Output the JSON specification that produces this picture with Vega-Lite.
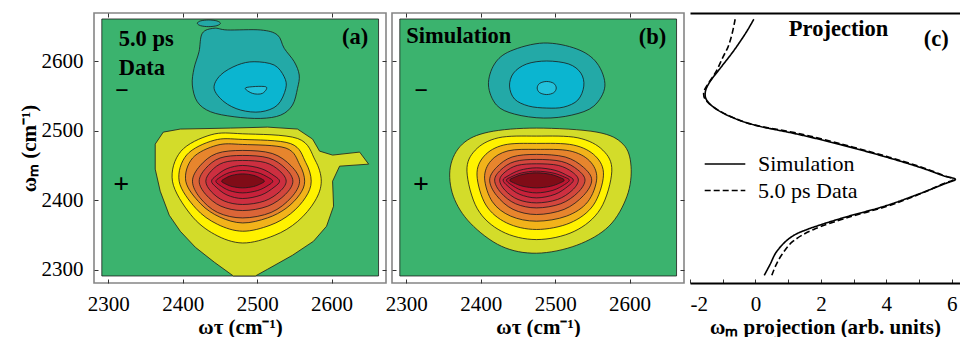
{
 "$schema": "https://vega.github.io/schema/vega-lite/v6.json",
 "background": "white",
 "padding": {"left": 17, "top": 11, "right": 0, "bottom": 0},
 "autosize": {"type": "pad"},
 "bounds": "flush",
 "spacing": 6,
 "config": {
  "view": {"stroke": "#858585", "strokeWidth": 1.6},
  "axis": {"grid": false, "domain": false, "tickSize": -4, "tickColor": "#333333", "tickWidth": 1, "labelFont": "Liberation Serif", "labelFontSize": 21, "labelColor": "#000000", "labelPadding": 14, "titleFont": "Liberation Serif", "titleFontSize": 21, "titleFontWeight": "bold", "titleColor": "#000000"},
  "text": {"font": "Liberation Serif", "color": "#000000"}
 },
 "datasets": {
  "ca": [
   {"p":"W","k":1,"t":2291.5,"m":2291.1},{"p":"W","k":2,"t":2663,"m":2291.1},{"p":"W","k":3,"t":2663,"m":2660.4},{"p":"W","k":4,"t":2291.5,"m":2660.4},
   {"p":"P01","k":1,"t":2363.2,"m":2480.6},{"p":"P01","k":2,"t":2374.0,"m":2497.8},{"p":"P01","k":3,"t":2396.8,"m":2502.2},{"p":"P01","k":4,"t":2464.1,"m":2503.6},{"p":"P01","k":5,"t":2513.9,"m":2505.0},{"p":"P01","k":6,"t":2554.2,"m":2502.2},{"p":"P01","k":7,"t":2574.4,"m":2487.8},{"p":"P01","k":8,"t":2583.8,"m":2470.5},{"p":"P01","k":9,"t":2601.3,"m":2464.8},{"p":"P01","k":10,"t":2637.6,"m":2469.1},{"p":"P01","k":11,"t":2649.7,"m":2451.8},{"p":"P01","k":12,"t":2610.7,"m":2448.9},{"p":"P01","k":13,"t":2601.3,"m":2427.3},{"p":"P01","k":14,"t":2602.6,"m":2391.4},{"p":"P01","k":15,"t":2593.2,"m":2362.6},{"p":"P01","k":16,"t":2575.7,"m":2341.0},{"p":"P01","k":17,"t":2547.5,"m":2320.9},{"p":"P01","k":18,"t":2513.9,"m":2300.7},{"p":"P01","k":19,"t":2497.7,"m":2291.1},{"p":"P01","k":20,"t":2468.1,"m":2291.1},{"p":"P01","k":21,"t":2442.6,"m":2310.8},{"p":"P01","k":22,"t":2417.0,"m":2332.4},{"p":"P01","k":23,"t":2396.8,"m":2355.4},{"p":"P01","k":24,"t":2382.0,"m":2378.4},{"p":"P01","k":25,"t":2369.9,"m":2412.9},{"p":"P01","k":26,"t":2363.2,"m":2444.6},
   {"p":"P02","k":1,"t":2480.6,"m":2495.4},{"p":"P02","k":2,"t":2554.5,"m":2488.6},{"p":"P02","k":3,"t":2577.7,"m":2457.9},{"p":"P02","k":4,"t":2586.1,"m":2427.3},{"p":"P02","k":5,"t":2577.7,"m":2398.9},{"p":"P02","k":6,"t":2554.5,"m":2369.6},{"p":"P02","k":7,"t":2522.8,"m":2349.2},{"p":"P02","k":8,"t":2480.6,"m":2338.5},{"p":"P02","k":9,"t":2442.9,"m":2350.9},{"p":"P02","k":10,"t":2410.8,"m":2379.3},{"p":"P02","k":11,"t":2386.3,"m":2427.3},{"p":"P02","k":12,"t":2397.6,"m":2470.2},{"p":"P02","k":13,"t":2438.2,"m":2494.0},
   {"p":"P03","k":1,"t":2480.6,"m":2487.3},{"p":"P03","k":2,"t":2545.0,"m":2481.3},{"p":"P03","k":3,"t":2565.2,"m":2454.3},{"p":"P03","k":4,"t":2572.6,"m":2427.3},{"p":"P03","k":5,"t":2565.2,"m":2404.3},{"p":"P03","k":6,"t":2545.0,"m":2380.6},{"p":"P03","k":7,"t":2517.4,"m":2364.0},{"p":"P03","k":8,"t":2480.6,"m":2355.4},{"p":"P03","k":9,"t":2446.5,"m":2365.5},{"p":"P03","k":10,"t":2417.5,"m":2388.5},{"p":"P03","k":11,"t":2395.3,"m":2427.3},{"p":"P03","k":12,"t":2405.5,"m":2465.1},{"p":"P03","k":13,"t":2442.2,"m":2486.1},
   {"p":"P04","k":1,"t":2480.6,"m":2480.1},{"p":"P04","k":2,"t":2538.8,"m":2474.8},{"p":"P04","k":3,"t":2557.1,"m":2451.1},{"p":"P04","k":4,"t":2563.8,"m":2427.3},{"p":"P04","k":5,"t":2557.1,"m":2408.1},{"p":"P04","k":6,"t":2538.8,"m":2388.3},{"p":"P04","k":7,"t":2513.9,"m":2374.5},{"p":"P04","k":8,"t":2480.6,"m":2367.3},{"p":"P04","k":9,"t":2450.0,"m":2375.7},{"p":"P04","k":10,"t":2424.1,"m":2394.9},{"p":"P04","k":11,"t":2404.2,"m":2427.3},{"p":"P04","k":12,"t":2413.4,"m":2460.6},{"p":"P04","k":13,"t":2446.2,"m":2479.0},
   {"p":"P05","k":1,"t":2480.6,"m":2471.5},{"p":"P05","k":2,"t":2520.3,"m":2467.1},{"p":"P05","k":3,"t":2545.5,"m":2449.4},{"p":"P05","k":4,"t":2557.0,"m":2427.3},{"p":"P05","k":5,"t":2545.5,"m":2403.5},{"p":"P05","k":6,"t":2518.8,"m":2382.4},{"p":"P05","k":7,"t":2480.6,"m":2374.5},{"p":"P05","k":8,"t":2446.9,"m":2382.4},{"p":"P05","k":9,"t":2423.3,"m":2403.5},{"p":"P05","k":10,"t":2413.2,"m":2427.3},{"p":"P05","k":11,"t":2423.3,"m":2449.4},{"p":"P05","k":12,"t":2445.6,"m":2467.1},
   {"p":"P06","k":1,"t":2480.6,"m":2464.3},{"p":"P06","k":2,"t":2515.6,"m":2460.6},{"p":"P06","k":3,"t":2537.9,"m":2445.8},{"p":"P06","k":4,"t":2548.0,"m":2427.3},{"p":"P06","k":5,"t":2537.9,"m":2408.3},{"p":"P06","k":6,"t":2514.3,"m":2391.4},{"p":"P06","k":7,"t":2480.6,"m":2385.1},{"p":"P06","k":8,"t":2451.4,"m":2391.4},{"p":"P06","k":9,"t":2431.0,"m":2408.3},{"p":"P06","k":10,"t":2422.2,"m":2427.3},{"p":"P06","k":11,"t":2431.0,"m":2445.8},{"p":"P06","k":12,"t":2450.2,"m":2460.6},
   {"p":"P07","k":1,"t":2480.6,"m":2457.1},{"p":"P07","k":2,"t":2511.0,"m":2454.1},{"p":"P07","k":3,"t":2530.2,"m":2442.2},{"p":"P07","k":4,"t":2539.0,"m":2427.3},{"p":"P07","k":5,"t":2530.2,"m":2412.2},{"p":"P07","k":6,"t":2509.8,"m":2398.8},{"p":"P07","k":7,"t":2480.6,"m":2393.8},{"p":"P07","k":8,"t":2455.8,"m":2398.8},{"p":"P07","k":9,"t":2438.5,"m":2412.2},{"p":"P07","k":10,"t":2431.1,"m":2427.3},{"p":"P07","k":11,"t":2438.5,"m":2442.2},{"p":"P07","k":12,"t":2454.9,"m":2454.1},
   {"p":"P08","k":1,"t":2480.6,"m":2449.9},{"p":"P08","k":2,"t":2505.4,"m":2445.4},{"p":"P08","k":3,"t":2522.7,"m":2435.2},{"p":"P08","k":4,"t":2530.1,"m":2427.3},{"p":"P08","k":5,"t":2522.7,"m":2418.6},{"p":"P08","k":6,"t":2505.4,"m":2407.4},{"p":"P08","k":7,"t":2480.6,"m":2402.4},{"p":"P08","k":8,"t":2459.7,"m":2407.4},{"p":"P08","k":9,"t":2445.1,"m":2418.6},{"p":"P08","k":10,"t":2438.8,"m":2427.3},{"p":"P08","k":11,"t":2445.1,"m":2435.2},{"p":"P08","k":12,"t":2459.7,"m":2445.4},
   {"p":"P09","k":1,"t":2480.6,"m":2442.7},{"p":"P09","k":2,"t":2500.8,"m":2439.6},{"p":"P09","k":3,"t":2514.9,"m":2432.7},{"p":"P09","k":4,"t":2521.0,"m":2427.3},{"p":"P09","k":5,"t":2514.9,"m":2421.4},{"p":"P09","k":6,"t":2500.8,"m":2413.9},{"p":"P09","k":7,"t":2480.6,"m":2410.5},{"p":"P09","k":8,"t":2462.6,"m":2413.9},{"p":"P09","k":9,"t":2450.0,"m":2421.4},{"p":"P09","k":10,"t":2444.6,"m":2427.3},{"p":"P09","k":11,"t":2450.0,"m":2432.7},{"p":"P09","k":12,"t":2462.6,"m":2439.6},
   {"p":"P10","k":1,"t":2480.6,"m":2437.8},{"p":"P10","k":2,"t":2495.2,"m":2435.7},{"p":"P10","k":3,"t":2505.4,"m":2431.0},{"p":"P10","k":4,"t":2509.8,"m":2427.3},{"p":"P10","k":5,"t":2505.4,"m":2423.9},{"p":"P10","k":6,"t":2495.2,"m":2419.6},{"p":"P10","k":7,"t":2480.6,"m":2417.7},{"p":"P10","k":8,"t":2466.4,"m":2419.6},{"p":"P10","k":9,"t":2456.5,"m":2423.9},{"p":"P10","k":10,"t":2452.3,"m":2427.3},{"p":"P10","k":11,"t":2456.5,"m":2431.0},{"p":"P10","k":12,"t":2466.4,"m":2435.7},
   {"p":"Q1","k":1,"t":2426.4,"m":2639.9},{"p":"Q1","k":2,"t":2422.0,"m":2613.4},{"p":"Q1","k":3,"t":2415.3,"m":2589.5},{"p":"Q1","k":4,"t":2413.0,"m":2565.5},{"p":"Q1","k":5,"t":2419.7,"m":2541.4},{"p":"Q1","k":6,"t":2437.6,"m":2527.0},{"p":"Q1","k":7,"t":2469.1,"m":2519.9},{"p":"Q1","k":8,"t":2504.8,"m":2517.5},{"p":"Q1","k":9,"t":2531.7,"m":2522.3},{"p":"Q1","k":10,"t":2547.5,"m":2536.7},{"p":"Q1","k":11,"t":2554.2,"m":2560.7},{"p":"Q1","k":12,"t":2556.5,"m":2579.9},{"p":"Q1","k":13,"t":2549.8,"m":2599.0},{"p":"Q1","k":14,"t":2536.3,"m":2618.3},{"p":"Q1","k":15,"t":2527.3,"m":2637.4},{"p":"Q1","k":16,"t":2504.8,"m":2644.6},{"p":"Q1","k":17,"t":2460.1,"m":2644.6},{"p":"Q1","k":18,"t":2442.2,"m":2647.1},
   {"p":"Q1b","k":1,"t":2435.0,"m":2659.0},{"p":"Q1b","k":2,"t":2446.0,"m":2657.6},{"p":"Q1b","k":3,"t":2450.7,"m":2654.2},{"p":"Q1b","k":4,"t":2446.0,"m":2650.8},{"p":"Q1b","k":5,"t":2435.0,"m":2649.4},{"p":"Q1b","k":6,"t":2424.0,"m":2650.8},{"p":"Q1b","k":7,"t":2419.7,"m":2654.2},{"p":"Q1b","k":8,"t":2424.0,"m":2657.6},
   {"p":"Q2","k":1,"t":2496.0,"m":2599.0},{"p":"Q2","k":2,"t":2522.9,"m":2594.2},{"p":"Q2","k":3,"t":2536.3,"m":2577.4},{"p":"Q2","k":4,"t":2538.5,"m":2560.7},{"p":"Q2","k":5,"t":2527.3,"m":2536.7},{"p":"Q2","k":6,"t":2504.8,"m":2527.0},{"p":"Q2","k":7,"t":2477.9,"m":2529.5},{"p":"Q2","k":8,"t":2455.6,"m":2541.4},{"p":"Q2","k":9,"t":2442.2,"m":2560.7},{"p":"Q2","k":10,"t":2451.0,"m":2579.9},{"p":"Q2","k":11,"t":2473.5,"m":2594.2},
   {"p":"Q3","k":1,"t":2484.7,"m":2561.6},{"p":"Q3","k":2,"t":2511.6,"m":2563.0},{"p":"Q3","k":3,"t":2507.1,"m":2553.5},{"p":"Q3","k":4,"t":2493.7,"m":2553.5}
  ],
  "cb": [
   {"p":"W","k":1,"t":2291.5,"m":2291.1},{"p":"W","k":2,"t":2663,"m":2291.1},{"p":"W","k":3,"t":2663,"m":2660.4},{"p":"W","k":4,"t":2291.5,"m":2660.4},
   {"p":"P01","k":1,"t":2475.2,"m":2503.6},{"p":"P01","k":2,"t":2556.1,"m":2497.8},{"p":"P01","k":3,"t":2591.1,"m":2480.6},{"p":"P01","k":4,"t":2601.9,"m":2448.9},{"p":"P01","k":5,"t":2596.5,"m":2405.8},{"p":"P01","k":6,"t":2572.2,"m":2362.6},{"p":"P01","k":7,"t":2529.1,"m":2335.3},{"p":"P01","k":8,"t":2475.2,"m":2323.8},{"p":"P01","k":9,"t":2428.0,"m":2333.8},{"p":"P01","k":10,"t":2386.3,"m":2366.9},{"p":"P01","k":11,"t":2363.3,"m":2405.8},{"p":"P01","k":12,"t":2359.3,"m":2447.5},{"p":"P01","k":13,"t":2375.5,"m":2480.6},{"p":"P01","k":14,"t":2410.5,"m":2497.8},
   {"p":"P02","k":1,"t":2475.0,"m":2492.1},{"p":"P02","k":2,"t":2530.6,"m":2489.6},{"p":"P02","k":3,"t":2564.0,"m":2471.9},{"p":"P02","k":4,"t":2576.1,"m":2441.7},{"p":"P02","k":5,"t":2560.9,"m":2387.6},{"p":"P02","k":6,"t":2525.6,"m":2355.2},{"p":"P02","k":7,"t":2475.0,"m":2343.4},{"p":"P02","k":8,"t":2428.3,"m":2355.2},{"p":"P02","k":9,"t":2395.6,"m":2387.6},{"p":"P02","k":10,"t":2381.6,"m":2441.7},{"p":"P02","k":11,"t":2392.8,"m":2471.9},{"p":"P02","k":12,"t":2423.6,"m":2489.6},
   {"p":"P03","k":1,"t":2475.0,"m":2481.6},{"p":"P03","k":2,"t":2524.4,"m":2479.3},{"p":"P03","k":3,"t":2554.1,"m":2463.4},{"p":"P03","k":4,"t":2564.9,"m":2436.0},{"p":"P03","k":5,"t":2551.4,"m":2393.0},{"p":"P03","k":6,"t":2520.0,"m":2367.3},{"p":"P03","k":7,"t":2475.0,"m":2357.9},{"p":"P03","k":8,"t":2435.0,"m":2367.3},{"p":"P03","k":9,"t":2407.1,"m":2393.0},{"p":"P03","k":10,"t":2395.1,"m":2436.0},{"p":"P03","k":11,"t":2404.7,"m":2463.4},{"p":"P03","k":12,"t":2431.1,"m":2479.3},
   {"p":"P04","k":1,"t":2475.0,"m":2473.0},{"p":"P04","k":2,"t":2519.5,"m":2470.9},{"p":"P04","k":3,"t":2546.2,"m":2456.5},{"p":"P04","k":4,"t":2555.9,"m":2431.7},{"p":"P04","k":5,"t":2543.8,"m":2397.7},{"p":"P04","k":6,"t":2515.5,"m":2377.2},{"p":"P04","k":7,"t":2475.0,"m":2369.8},{"p":"P04","k":8,"t":2440.1,"m":2377.2},{"p":"P04","k":9,"t":2415.8,"m":2397.7},{"p":"P04","k":10,"t":2405.3,"m":2431.7},{"p":"P04","k":11,"t":2413.7,"m":2456.5},{"p":"P04","k":12,"t":2436.7,"m":2470.9},
   {"p":"P05","k":1,"t":2475.0,"m":2465.8},{"p":"P05","k":2,"t":2513.5,"m":2462.1},{"p":"P05","k":3,"t":2538.0,"m":2447.3},{"p":"P05","k":4,"t":2549.1,"m":2428.8},{"p":"P05","k":5,"t":2538.0,"m":2406.6},{"p":"P05","k":6,"t":2512.1,"m":2386.8},{"p":"P05","k":7,"t":2475.0,"m":2379.4},{"p":"P05","k":8,"t":2443.5,"m":2386.8},{"p":"P05","k":9,"t":2421.5,"m":2406.6},{"p":"P05","k":10,"t":2412.1,"m":2428.8},{"p":"P05","k":11,"t":2421.5,"m":2447.3},{"p":"P05","k":12,"t":2442.3,"m":2462.1},
   {"p":"P06","k":1,"t":2475.0,"m":2458.6},{"p":"P06","k":2,"t":2508.9,"m":2455.6},{"p":"P06","k":3,"t":2530.3,"m":2443.7},{"p":"P06","k":4,"t":2540.1,"m":2428.8},{"p":"P06","k":5,"t":2530.3,"m":2410.8},{"p":"P06","k":6,"t":2507.6,"m":2394.9},{"p":"P06","k":7,"t":2475.0,"m":2388.9},{"p":"P06","k":8,"t":2446.9,"m":2394.9},{"p":"P06","k":9,"t":2427.2,"m":2410.8},{"p":"P06","k":10,"t":2418.8,"m":2428.8},{"p":"P06","k":11,"t":2427.2,"m":2443.7},{"p":"P06","k":12,"t":2445.8,"m":2455.6},
   {"p":"P07","k":1,"t":2475.0,"m":2452.3},{"p":"P07","k":2,"t":2504.2,"m":2450.0},{"p":"P07","k":3,"t":2522.8,"m":2440.6},{"p":"P07","k":4,"t":2531.2,"m":2428.8},{"p":"P07","k":5,"t":2522.8,"m":2414.1},{"p":"P07","k":6,"t":2503.1,"m":2401.0},{"p":"P07","k":7,"t":2475.0,"m":2396.1},{"p":"P07","k":8,"t":2450.2,"m":2401.0},{"p":"P07","k":9,"t":2432.9,"m":2414.1},{"p":"P07","k":10,"t":2425.5,"m":2428.8},{"p":"P07","k":11,"t":2432.9,"m":2440.6},{"p":"P07","k":12,"t":2449.3,"m":2450.0},
   {"p":"P08","k":1,"t":2475.0,"m":2446.5},{"p":"P08","k":2,"t":2499.8,"m":2443.0},{"p":"P08","k":3,"t":2517.1,"m":2435.0},{"p":"P08","k":4,"t":2524.5,"m":2428.8},{"p":"P08","k":5,"t":2517.1,"m":2419.9},{"p":"P08","k":6,"t":2499.8,"m":2408.4},{"p":"P08","k":7,"t":2475.0,"m":2403.3},{"p":"P08","k":8,"t":2452.5,"m":2408.4},{"p":"P08","k":9,"t":2436.8,"m":2419.9},{"p":"P08","k":10,"t":2430.1,"m":2428.8},{"p":"P08","k":11,"t":2436.8,"m":2435.0},{"p":"P08","k":12,"t":2452.5,"m":2443.0},
   {"p":"P09","k":1,"t":2475.0,"m":2441.7},{"p":"P09","k":2,"t":2497.1,"m":2439.1},{"p":"P09","k":3,"t":2512.5,"m":2433.3},{"p":"P09","k":4,"t":2519.1,"m":2428.8},{"p":"P09","k":5,"t":2512.5,"m":2422.4},{"p":"P09","k":6,"t":2497.1,"m":2414.2},{"p":"P09","k":7,"t":2475.0,"m":2410.5},{"p":"P09","k":8,"t":2454.8,"m":2414.2},{"p":"P09","k":9,"t":2440.7,"m":2422.4},{"p":"P09","k":10,"t":2434.6,"m":2428.8},{"p":"P09","k":11,"t":2440.7,"m":2433.3},{"p":"P09","k":12,"t":2454.8,"m":2439.1},
   {"p":"P10","k":1,"t":2475.0,"m":2439.3},{"p":"P10","k":2,"t":2493.7,"m":2437.2},{"p":"P10","k":3,"t":2506.7,"m":2432.5},{"p":"P10","k":4,"t":2512.3,"m":2428.8},{"p":"P10","k":5,"t":2506.7,"m":2424.9},{"p":"P10","k":6,"t":2493.7,"m":2419.9},{"p":"P10","k":7,"t":2475.0,"m":2417.7},{"p":"P10","k":8,"t":2457.0,"m":2419.9},{"p":"P10","k":9,"t":2444.4,"m":2424.9},{"p":"P10","k":10,"t":2439.0,"m":2428.8},{"p":"P10","k":11,"t":2444.4,"m":2432.5},{"p":"P10","k":12,"t":2457.0,"m":2437.2},
   {"p":"Q1","k":1,"t":2484.6,"m":2625.9},{"p":"Q1","k":2,"t":2529.1,"m":2617.3},{"p":"Q1","k":3,"t":2556.1,"m":2597.1},{"p":"Q1","k":4,"t":2566.8,"m":2564.0},{"p":"Q1","k":5,"t":2552.0,"m":2535.3},{"p":"Q1","k":6,"t":2522.4,"m":2522.3},{"p":"Q1","k":7,"t":2484.6,"m":2518.0},{"p":"Q1","k":8,"t":2445.6,"m":2523.7},{"p":"Q1","k":9,"t":2421.3,"m":2536.7},{"p":"Q1","k":10,"t":2410.5,"m":2565.5},{"p":"Q1","k":11,"t":2418.6,"m":2595.7},{"p":"Q1","k":12,"t":2440.2,"m":2614.4},
   {"p":"Q2","k":1,"t":2488.7,"m":2600.0},{"p":"Q2","k":2,"t":2518.3,"m":2595.7},{"p":"Q2","k":3,"t":2534.5,"m":2582.7},{"p":"Q2","k":4,"t":2538.5,"m":2564.0},{"p":"Q2","k":5,"t":2530.5,"m":2543.9},{"p":"Q2","k":6,"t":2511.6,"m":2533.8},{"p":"Q2","k":7,"t":2488.7,"m":2532.4},{"p":"Q2","k":8,"t":2464.4,"m":2535.3},{"p":"Q2","k":9,"t":2445.6,"m":2545.3},{"p":"Q2","k":10,"t":2438.8,"m":2564.0},{"p":"Q2","k":11,"t":2444.2,"m":2582.7},{"p":"Q2","k":12,"t":2461.7,"m":2595.7},
   {"p":"Q3","k":1,"t":2488.7,"m":2570.6},{"p":"Q3","k":2,"t":2498.1,"m":2567.9},{"p":"Q3","k":3,"t":2501.5,"m":2561.2},{"p":"Q3","k":4,"t":2498.1,"m":2554.5},{"p":"Q3","k":5,"t":2488.7,"m":2551.8},{"p":"Q3","k":6,"t":2479.3,"m":2554.5},{"p":"Q3","k":7,"t":2475.9,"m":2561.2},{"p":"Q3","k":8,"t":2479.3,"m":2567.9}
  ],
  "pr": [
   {"s":"Simulation","m":2660,"v":-0.05},{"s":"Simulation","m":2640,"v":-0.30},{"s":"Simulation","m":2615,"v":-0.66},{"s":"Simulation","m":2590,"v":-1.07},{"s":"Simulation","m":2571,"v":-1.38},{"s":"Simulation","m":2556,"v":-1.53},{"s":"Simulation","m":2543,"v":-1.48},{"s":"Simulation","m":2530,"v":-1.17},{"s":"Simulation","m":2518,"v":-0.66},{"s":"Simulation","m":2507,"v":0.05},{"s":"Simulation","m":2495,"v":1.27},{"s":"Simulation","m":2480,"v":2.59},{"s":"Simulation","m":2463,"v":3.92},{"s":"Simulation","m":2447,"v":5.04},{"s":"Simulation","m":2435,"v":5.75},{"s":"Simulation","m":2430,"v":6.11},{"s":"Simulation","m":2423,"v":5.75},{"s":"Simulation","m":2408,"v":4.94},{"s":"Simulation","m":2391,"v":3.92},{"s":"Simulation","m":2375,"v":2.70},{"s":"Simulation","m":2358,"v":1.58},{"s":"Simulation","m":2346,"v":1.06},{"s":"Simulation","m":2327,"v":0.66},{"s":"Simulation","m":2308,"v":0.45},{"s":"Simulation","m":2292,"v":0.27},
   {"s":"5.0 ps Data","m":2660,"v":-0.62},{"s":"5.0 ps Data","m":2638,"v":-0.72},{"s":"5.0 ps Data","m":2620,"v":-0.84},{"s":"5.0 ps Data","m":2605,"v":-1.00},{"s":"5.0 ps Data","m":2585,"v":-1.20},{"s":"5.0 ps Data","m":2567,"v":-1.45},{"s":"5.0 ps Data","m":2555,"v":-1.58},{"s":"5.0 ps Data","m":2544,"v":-1.52},{"s":"5.0 ps Data","m":2532,"v":-1.22},{"s":"5.0 ps Data","m":2520,"v":-0.74},{"s":"5.0 ps Data","m":2508,"v":-0.02},{"s":"5.0 ps Data","m":2496,"v":1.30},{"s":"5.0 ps Data","m":2480,"v":2.68},{"s":"5.0 ps Data","m":2463,"v":4.00},{"s":"5.0 ps Data","m":2447,"v":5.10},{"s":"5.0 ps Data","m":2436,"v":5.72},{"s":"5.0 ps Data","m":2430,"v":6.05},{"s":"5.0 ps Data","m":2423,"v":5.70},{"s":"5.0 ps Data","m":2408,"v":4.98},{"s":"5.0 ps Data","m":2391,"v":4.00},{"s":"5.0 ps Data","m":2375,"v":2.82},{"s":"5.0 ps Data","m":2358,"v":1.78},{"s":"5.0 ps Data","m":2341,"v":1.15},{"s":"5.0 ps Data","m":2322,"v":0.81},{"s":"5.0 ps Data","m":2306,"v":0.62},{"s":"5.0 ps Data","m":2292,"v":0.50}
  ],
  "ta": [{"lab":"5.0 ps","t":2314.2,"m":2621.5},{"lab":"Data","t":2314.2,"m":2580.5},{"lab":"(a)","t":2613.9,"m":2624.5}],
  "sa": [{"lab":"−","t":2318.6,"m":2556.2},{"lab":"+","t":2317.5,"m":2421.6}],
  "tb": [{"lab":"Simulation","t":2300.2,"m":2626.3},{"lab":"(b)","t":2612.1,"m":2624.5}],
  "sb": [{"lab":"−","t":2320.5,"m":2556.2},{"lab":"+","t":2319.9,"m":2421.6}],
  "tc": [{"lab":"Projection","v":1.02,"m":2636.0},{"lab":"(c)","v":5.14,"m":2622.0}]
 },
 "hconcat": [
  {
   "width": 292, "height": 270,
   "layer": [
    {
     "data": {"name": "ca"},
     "transform": [{"filter": "datum.p == 'W' || datum.p == 'P01'"}],
     "mark": {"type": "line", "interpolate": "linear-closed", "stroke": "#1a1a1a", "strokeWidth": 0.8},
     "encoding": {
      "x": {"field": "t", "type": "quantitative", "scale": {"domain": [2281, 2673], "nice": false, "zero": false}, "axis": {"orient": "bottom", "values": [2300, 2400, 2500, 2600], "format": "d", "title": "ωτ (cm⁻¹)", "titlePadding": 2}},
      "y": {"field": "m", "type": "quantitative", "scale": {"domain": [2281, 2669], "nice": false, "zero": false}, "axis": {"orient": "left", "values": [2300, 2400, 2500, 2600], "format": "d", "title": "ωₘ (cm⁻¹)", "labelPadding": 15, "titlePadding": 2}},
      "fill": {"field": "p", "type": "nominal", "legend": null, "scale": {"domain": ["W","P01","P02","P03","P04","P05","P06","P07","P08","P09","P10","Q1","Q1b","Q2","Q3"], "range": ["#3bb36e","#d3dc2a","#fff200","#f2b31a","#e7852d","#db6537","#d3463d","#cd2f40","#c7213a","#bd1530","#800c17","#23a9a7","#23a9a7","#0bb5d0","#22c2dc"]}},
      "order": {"field": "k", "type": "quantitative"}
     }
    },
    {
     "data": {"name": "ca"},
     "transform": [{"filter": "datum.p != 'W' && datum.p != 'P01'"}],
     "mark": {"type": "line", "interpolate": "cardinal-closed", "stroke": "#1a1a1a", "strokeWidth": 0.8},
     "encoding": {
      "x": {"field": "t", "type": "quantitative", "scale": {"domain": [2281, 2673], "nice": false, "zero": false}, "axis": {"orient": "top", "values": [2300, 2400, 2500, 2600], "labels": false, "title": null}},
      "y": {"field": "m", "type": "quantitative", "scale": {"domain": [2281, 2669], "nice": false, "zero": false}, "axis": {"orient": "right", "values": [2300, 2400, 2500, 2600], "labels": false, "title": null}},
      "fill": {"field": "p", "type": "nominal", "legend": null, "scale": {"domain": ["W","P01","P02","P03","P04","P05","P06","P07","P08","P09","P10","Q1","Q1b","Q2","Q3"], "range": ["#3bb36e","#d3dc2a","#fff200","#f2b31a","#e7852d","#db6537","#d3463d","#cd2f40","#c7213a","#bd1530","#800c17","#23a9a7","#23a9a7","#0bb5d0","#22c2dc"]}},
      "order": {"field": "k", "type": "quantitative"}
     }
    },
    {
     "data": {"name": "ta"},
     "mark": {"type": "text", "align": "left", "baseline": "alphabetic", "font": "Liberation Serif", "fontWeight": "bold", "fontSize": 22.5, "color": "#000000"},
     "encoding": {
      "x": {"field": "t", "type": "quantitative", "scale": {"domain": [2281, 2673], "nice": false, "zero": false}, "axis": null},
      "y": {"field": "m", "type": "quantitative", "scale": {"domain": [2281, 2669], "nice": false, "zero": false}, "axis": null},
      "text": {"field": "lab"}
     }
    },
    {
     "data": {"name": "sa"},
     "transform": [{"filter": "datum.lab == '+'"}],
     "mark": {"type": "text", "align": "center", "baseline": "middle", "font": "Liberation Serif", "fontWeight": "bold", "fontSize": 28, "color": "#000000"},
     "encoding": {
      "x": {"field": "t", "type": "quantitative", "scale": {"domain": [2281, 2673], "nice": false, "zero": false}, "axis": null},
      "y": {"field": "m", "type": "quantitative", "scale": {"domain": [2281, 2669], "nice": false, "zero": false}, "axis": null},
      "text": {"field": "lab"}
     }
    },
    {
     "data": {"name": "sa"},
     "transform": [{"filter": "datum.lab != '+'"}],
     "mark": {"type": "text", "align": "center", "baseline": "middle", "font": "Liberation Serif", "fontWeight": "bold", "fontSize": 24, "color": "#000000"},
     "encoding": {
      "x": {"field": "t", "type": "quantitative", "scale": {"domain": [2281, 2673], "nice": false, "zero": false}, "axis": null},
      "y": {"field": "m", "type": "quantitative", "scale": {"domain": [2281, 2669], "nice": false, "zero": false}, "axis": null},
      "text": {"field": "lab"}
     }
    }
   ]
  },
  {
   "width": 292, "height": 270,
   "layer": [
    {
     "data": {"name": "cb"},
     "transform": [{"filter": "datum.p == 'W'"}],
     "mark": {"type": "line", "interpolate": "linear-closed", "stroke": "#1a1a1a", "strokeWidth": 0.8},
     "encoding": {
      "x": {"field": "t", "type": "quantitative", "scale": {"domain": [2281, 2673], "nice": false, "zero": false}, "axis": {"orient": "bottom", "values": [2300, 2400, 2500, 2600], "format": "d", "title": "ωτ (cm⁻¹)", "titlePadding": 2}},
      "y": {"field": "m", "type": "quantitative", "scale": {"domain": [2281, 2669], "nice": false, "zero": false}, "axis": {"orient": "left", "values": [2300, 2400, 2500, 2600], "labels": false, "title": null}},
      "fill": {"field": "p", "type": "nominal", "legend": null, "scale": {"domain": ["W","P01","P02","P03","P04","P05","P06","P07","P08","P09","P10","Q1","Q1b","Q2","Q3"], "range": ["#3bb36e","#d3dc2a","#fff200","#f2b31a","#e7852d","#db6537","#d3463d","#cd2f40","#c7213a","#bd1530","#800c17","#23a9a7","#23a9a7","#0bb5d0","#22c2dc"]}},
      "order": {"field": "k", "type": "quantitative"}
     }
    },
    {
     "data": {"name": "cb"},
     "transform": [{"filter": "datum.p != 'W'"}],
     "mark": {"type": "line", "interpolate": "cardinal-closed", "stroke": "#1a1a1a", "strokeWidth": 0.8},
     "encoding": {
      "x": {"field": "t", "type": "quantitative", "scale": {"domain": [2281, 2673], "nice": false, "zero": false}, "axis": {"orient": "top", "values": [2300, 2400, 2500, 2600], "labels": false, "title": null}},
      "y": {"field": "m", "type": "quantitative", "scale": {"domain": [2281, 2669], "nice": false, "zero": false}, "axis": {"orient": "right", "values": [2300, 2400, 2500, 2600], "labels": false, "title": null}},
      "fill": {"field": "p", "type": "nominal", "legend": null, "scale": {"domain": ["W","P01","P02","P03","P04","P05","P06","P07","P08","P09","P10","Q1","Q1b","Q2","Q3"], "range": ["#3bb36e","#d3dc2a","#fff200","#f2b31a","#e7852d","#db6537","#d3463d","#cd2f40","#c7213a","#bd1530","#800c17","#23a9a7","#23a9a7","#0bb5d0","#22c2dc"]}},
      "order": {"field": "k", "type": "quantitative"}
     }
    },
    {
     "data": {"name": "tb"},
     "mark": {"type": "text", "align": "left", "baseline": "alphabetic", "font": "Liberation Serif", "fontWeight": "bold", "fontSize": 22.5, "color": "#000000"},
     "encoding": {
      "x": {"field": "t", "type": "quantitative", "scale": {"domain": [2281, 2673], "nice": false, "zero": false}, "axis": null},
      "y": {"field": "m", "type": "quantitative", "scale": {"domain": [2281, 2669], "nice": false, "zero": false}, "axis": null},
      "text": {"field": "lab"}
     }
    },
    {
     "data": {"name": "sb"},
     "transform": [{"filter": "datum.lab == '+'"}],
     "mark": {"type": "text", "align": "center", "baseline": "middle", "font": "Liberation Serif", "fontWeight": "bold", "fontSize": 28, "color": "#000000"},
     "encoding": {
      "x": {"field": "t", "type": "quantitative", "scale": {"domain": [2281, 2673], "nice": false, "zero": false}, "axis": null},
      "y": {"field": "m", "type": "quantitative", "scale": {"domain": [2281, 2669], "nice": false, "zero": false}, "axis": null},
      "text": {"field": "lab"}
     }
    },
    {
     "data": {"name": "sb"},
     "transform": [{"filter": "datum.lab != '+'"}],
     "mark": {"type": "text", "align": "center", "baseline": "middle", "font": "Liberation Serif", "fontWeight": "bold", "fontSize": 24, "color": "#000000"},
     "encoding": {
      "x": {"field": "t", "type": "quantitative", "scale": {"domain": [2281, 2673], "nice": false, "zero": false}, "axis": null},
      "y": {"field": "m", "type": "quantitative", "scale": {"domain": [2281, 2669], "nice": false, "zero": false}, "axis": null},
      "text": {"field": "lab"}
     }
    }
   ]
  },
  {
   "width": 270, "height": 270,
   "view": {"stroke": null},
   "layer": [
    {
     "data": {"name": "pr"},
     "mark": {"type": "line", "interpolate": "cardinal", "color": "#000000", "strokeWidth": 1.6},
     "encoding": {
      "x": {"field": "v", "type": "quantitative", "scale": {"domain": [-2, 6.25], "nice": false, "zero": false}, "axis": {"orient": "bottom", "values": [-2, -1, 0, 1, 2, 3, 4, 5, 6], "labelExpr": "datum.value % 2 == 0 ? datum.value : ''", "title": "ωₘ projection (arb. units)", "titlePadding": 2, "domain": true, "domainColor": "#000000", "domainWidth": 2}},
      "y": {"field": "m", "type": "quantitative", "scale": {"domain": [2281, 2669], "nice": false, "zero": false}, "axis": {"orient": "left", "values": [2300, 2325, 2350, 2375, 2400, 2425, 2450, 2475, 2500, 2525, 2550, 2575, 2600, 2625, 2650], "labels": false, "title": null, "domain": true, "domainColor": "#000000", "domainWidth": 2}},
      "strokeDash": {"field": "s", "type": "nominal", "scale": {"domain": ["Simulation", "5.0 ps Data"], "range": [[1, 0], [6, 3]]}, "legend": {"orient": "none", "legendX": 620, "legendY": 140, "title": null, "symbolType": "M-2,0H2", "symbolSize": 412, "symbolStrokeWidth": 1.6, "symbolStrokeColor": "#000000", "symbolFillColor": "transparent", "labelFont": "Liberation Serif", "labelFontSize": 22, "labelColor": "#000000", "labelOffset": 22, "rowPadding": 4.5, "padding": 0}},
      "order": {"field": "m", "type": "quantitative"}
     }
    },
    {
     "data": {"name": "tc"},
     "mark": {"type": "text", "align": "left", "baseline": "alphabetic", "font": "Liberation Serif", "fontWeight": "bold", "fontSize": 22.5, "color": "#000000"},
     "encoding": {
      "x": {"field": "v", "type": "quantitative", "scale": {"domain": [-2, 6.25], "nice": false, "zero": false}, "axis": {"orient": "top", "labels": false, "ticks": false, "title": null, "domain": true, "domainColor": "#000000", "domainWidth": 2}},
      "y": {"field": "m", "type": "quantitative", "scale": {"domain": [2281, 2669], "nice": false, "zero": false}, "axis": null},
      "text": {"field": "lab"}
     }
    }
   ]
  }
 ]
}
